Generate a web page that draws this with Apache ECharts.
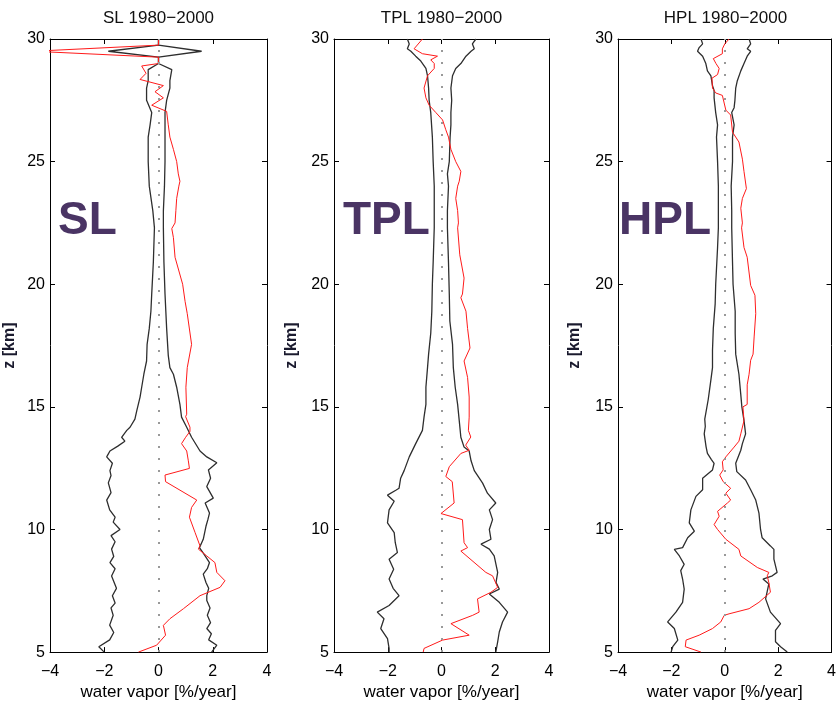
<!DOCTYPE html>
<html><head><meta charset="utf-8">
<script src="https://cdn.jsdelivr.net/npm/echarts@6/dist/echarts.min.js"></script>
<style>html,body{margin:0;padding:0;background:#fff}#c{width:839px;height:706px}</style>
</head><body><div id="c"></div>
<script>
// ---- data: [water vapor trend %/yr, altitude km] ----
const panelNames = ['SL', 'TPL', 'HPL'];
const panelTitles = ['SL 1980\u22122000', 'TPL 1980\u22122000', 'HPL 1980\u22122000'];
const xTicks = [-4, -2, 0, 2, 4];
const zTicks = [5, 10, 15, 20, 25, 30];

const slLower = [[-2.0,5.0],[-2.2,5.22],[-1.8,5.5],[-1.65,5.8],[-1.8,6.1],[-1.67,6.5],[-1.75,6.8],[-1.6,7.0],[-1.7,7.3],[-1.55,7.6],[-1.73,8.1],[-1.6,8.4],[-1.79,8.65],[-1.65,8.9],[-1.73,9.2],[-1.6,9.5],[-1.75,9.75],[-1.42,10.0],[-1.67,10.3],[-1.6,10.5],[-1.8,10.8],[-1.91,11.2],[-1.75,11.5],[-1.85,11.9],[-1.75,12.2],[-1.79,12.4],[-1.7,12.7],[-1.91,12.96],[-1.79,13.2],[-1.5,13.4],[-1.24,13.6],[-1.36,13.76],[-1.17,14.04],[-1.05,14.17],[-0.87,14.5],[-0.8,14.85],[-0.68,15.4],[-0.62,15.8],[-0.54,16.33],[-0.44,16.87],[-0.42,17.55],[-0.34,18.2],[-0.28,18.9],[-0.25,19.6],[-0.22,20.25],[-0.19,20.9],[-0.17,21.6],[-0.15,22.3],[-0.21,23],[-0.34,24],[-0.38,25],[-0.38,26],[-0.31,26.5],[-0.25,27],[-0.44,27.5],[-0.44,28],[-0.38,28.3],[-0.38,28.75],[0,29.0],[0,29.26],[-1.85,29.5],[0,29.75],[0,30]];
const slUpper = [[1.96,5.0],[2.15,5.28],[1.85,5.5],[1.95,5.75],[1.78,5.96],[1.92,6.2],[1.8,6.5],[1.9,6.8],[1.78,7.1],[1.78,7.3],[1.85,7.6],[1.75,7.84],[1.65,8.18],[1.8,8.4],[1.88,8.65],[1.7,8.95],[1.51,9.26],[1.65,9.6],[1.75,10.13],[1.82,10.4],[1.88,10.67],[1.72,11.08],[2.02,11.28],[1.78,11.75],[1.92,12.09],[1.84,12.43],[2.15,12.72],[1.78,12.96],[1.53,13.2],[1.22,13.76],[1.04,14.17],[0.85,14.58],[0.79,15.1],[0.67,15.8],[0.55,16.33],[0.42,16.6],[0.36,17.1],[0.3,18.2],[0.27,18.9],[0.24,19.6],[0.2,20.9],[0.18,22.27],[0.18,23],[0.22,24],[0.24,25],[0.24,26],[0.24,26.5],[0.24,27],[0.3,27.5],[0.42,28],[0.42,28.3],[0.49,28.75],[0,29.0],[0,29.26],[1.59,29.5],[0,29.75],[0,30]];
const slRed = [[-0.74,5.0],[-0.07,5.28],[0.26,5.69],[0.18,6.09],[0.42,6.36],[0.92,6.77],[1.53,7.3],[2.27,7.64],[2.45,7.91],[2.15,8.25],[2.08,8.65],[1.78,8.92],[1.47,9.2],[1.53,9.33],[1.35,9.87],[1.14,10.5],[1.22,10.9],[1.41,11.2],[0.26,11.95],[0.24,12.22],[1.14,12.49],[1.1,12.8],[1.04,13.2],[0.85,13.5],[1.0,13.76],[1.16,14.0],[1.16,14.17],[1.0,14.6],[1.04,14.7],[1.01,15.8],[1.06,16.6],[1.22,17.55],[1.06,18.8],[0.98,19.3],[0.89,20.0],[0.61,21.1],[0.55,21.9],[0.49,22.27],[0.61,22.5],[0.64,23],[0.67,23.5],[0.75,24],[0.79,24.2],[0.73,24.5],[0.67,25],[0.55,25.5],[0.42,26],[0.36,26.5],[0.3,27.05],[-0.25,27.3],[0.18,27.6],[-0.13,27.85],[0.18,28.1],[-0.68,28.35],[-0.46,28.6],[-0.62,28.9],[0,29.0],[0,29.26],[-4.6,29.5],[0,29.75],[0,30]];

const tplLower = [[-1.95,5.0],[-1.95,5.15],[-2.01,5.55],[-2.26,5.96],[-2.14,6.36],[-2.39,6.63],[-1.95,6.9],[-1.58,7.3],[-1.8,7.6],[-1.95,7.98],[-1.78,8.38],[-1.95,8.79],[-1.64,9.06],[-1.72,9.46],[-1.76,9.87],[-2.01,10.27],[-1.95,10.8],[-1.76,11.15],[-2.01,11.4],[-1.7,11.6],[-1.58,11.68],[-1.52,12.09],[-1.39,12.4],[-1.2,12.96],[-0.96,13.5],[-0.71,14.04],[-0.65,14.58],[-0.58,15.1],[-0.58,15.8],[-0.52,16.6],[-0.48,17.15],[-0.4,18.0],[-0.36,18.9],[-0.34,20.0],[-0.31,20.9],[-0.27,22.3],[-0.27,23],[-0.27,24],[-0.31,25],[-0.34,26],[-0.4,27],[-0.46,27.5],[-0.48,28],[-0.52,28.5],[-0.58,28.8],[-0.77,29.1],[-0.96,29.3],[-1.14,29.5],[-1.27,29.6],[-1.2,29.8],[-1.27,30]];
const tplUpper = [[2.02,5.0],[2.09,5.42],[2.15,5.82],[2.27,6.23],[2.46,6.63],[2.15,7.03],[1.78,7.37],[2.15,7.57],[2.03,7.84],[2.09,8.25],[1.96,8.92],[1.78,9.2],[1.47,9.4],[1.84,9.6],[1.78,10.0],[1.9,10.4],[1.78,10.8],[2.02,11.08],[1.71,11.48],[1.53,11.89],[1.22,12.4],[1.1,12.8],[1.03,13.2],[0.84,13.36],[0.72,13.76],[0.66,14.44],[0.6,15.1],[0.51,15.8],[0.44,16.6],[0.41,17.55],[0.31,18.5],[0.29,19.6],[0.26,20.9],[0.22,22.3],[0.22,23],[0.26,24],[0.22,24.5],[0.29,25],[0.32,26],[0.35,26.5],[0.35,27],[0.38,27.5],[0.35,28],[0.41,28.5],[0.53,28.8],[0.72,29],[0.91,29.3],[1.1,29.5],[1.22,29.6],[1.15,29.8],[1.28,30]];
const tplRed = [[-0.68,5.0],[-0.65,5.15],[0.04,5.49],[1.03,5.69],[0.35,6.16],[1.16,6.5],[1.4,6.63],[1.34,7.17],[1.84,7.44],[2.09,7.64],[1.9,8.11],[1.65,8.25],[0.72,9.12],[0.97,9.26],[0.84,9.46],[0.78,10.4],[-0.02,10.65],[0.47,11.08],[0.4,11.95],[0.16,12.16],[0.29,12.56],[0.72,13.1],[1.03,13.23],[0.9,13.44],[1.09,13.77],[1.0,14.04],[1.03,14.58],[1.03,15.4],[0.97,16.2],[0.84,16.87],[1.06,17.4],[0.97,18.2],[0.91,18.9],[0.72,19.45],[0.78,19.6],[0.84,20.25],[0.68,21.2],[0.6,22.3],[0.63,22.5],[0.6,23],[0.53,23.5],[0.6,24],[0.66,24.2],[0.72,24.6],[0.53,25],[0.35,25.5],[0.26,26],[0.16,26.3],[0.04,26.7],[-0.21,27],[-0.46,27.3],[-0.58,27.6],[-0.65,28.0],[-0.52,28.5],[-0.27,28.8],[-0.27,29.0],[-0.4,29.15],[-0.15,29.3],[-0.71,29.4],[-1.02,29.6],[-0.71,30]];

const hplLower = [[-2.01,5.0],[-1.95,5.22],[-1.76,5.49],[-1.89,5.96],[-2.14,6.23],[-1.83,6.63],[-1.58,7.03],[-1.52,7.57],[-1.58,7.98],[-1.65,8.32],[-1.52,8.58],[-1.7,8.92],[-1.89,9.19],[-1.58,9.26],[-1.39,9.66],[-1.14,9.93],[-1.33,10.27],[-1.27,10.8],[-1.08,11.35],[-0.83,11.62],[-0.83,12.09],[-0.46,12.43],[-0.4,12.7],[-0.5,12.85],[-0.65,13.1],[-0.7,13.37],[-0.77,13.9],[-0.73,14.2],[-0.75,14.5],[-0.62,15.3],[-0.52,16.1],[-0.46,16.6],[-0.46,17.3],[-0.43,18.2],[-0.36,19.2],[-0.34,20.0],[-0.27,21.5],[-0.24,22.3],[-0.24,23],[-0.24,24],[-0.27,25],[-0.31,26],[-0.27,26.5],[-0.34,27],[-0.4,27.6],[-0.4,27.9],[-0.46,28.1],[-0.52,28.5],[-0.65,28.7],[-0.71,29.0],[-0.83,29.3],[-1.02,29.5],[-0.96,29.65],[-0.83,29.8],[-0.89,30]];
const hplUpper = [[2.34,5.0],[2.09,5.22],[1.9,5.42],[1.9,5.89],[2.09,6.16],[1.71,6.63],[1.53,7.17],[1.65,7.78],[1.43,7.98],[1.78,8.11],[1.96,8.25],[1.84,8.79],[1.84,9.19],[1.71,9.33],[1.4,9.66],[1.34,10.0],[1.28,10.67],[1.16,11.2],[0.97,11.62],[0.78,12.02],[0.45,12.36],[0.41,12.7],[0.6,13.23],[0.66,13.5],[0.78,13.9],[0.72,14.44],[0.64,15.0],[0.6,15.5],[0.53,16.33],[0.41,17.15],[0.39,18.0],[0.39,18.9],[0.31,20.0],[0.29,20.9],[0.26,22.3],[0.26,23],[0.24,24],[0.29,25],[0.29,26],[0.35,26.5],[0.26,27],[0.35,27.2],[0.38,27.5],[0.41,28],[0.47,28.3],[0.6,28.7],[0.72,29.0],[0.84,29.3],[0.97,29.5],[0.84,29.6],[0.97,29.8],[0.91,30]];
const hplRed = [[-0.89,5.0],[-1.48,5.22],[-1.45,5.49],[-0.96,5.69],[-0.46,5.96],[-0.15,6.23],[-0.02,6.5],[0.16,6.56],[0.91,6.77],[1.28,7.03],[1.71,7.44],[1.65,7.84],[1.59,8.11],[1.65,8.25],[1.22,8.45],[0.6,8.92],[0.53,9.19],[0.04,9.6],[-0.27,10.0],[-0.4,10.2],[-0.21,10.54],[-0.27,10.74],[0.1,11.08],[0.22,11.2],[0.04,11.48],[0.22,11.68],[-0.06,11.95],[-0.19,12.22],[-0.06,12.43],[-0.09,12.76],[0.04,12.96],[0.35,13.36],[0.53,13.6],[0.6,13.9],[0.72,14.44],[0.68,15.0],[0.84,15.1],[0.84,15.9],[0.91,16.33],[0.97,16.9],[1.06,17.15],[1.1,17.85],[1.16,18.8],[1.13,19.55],[0.97,19.95],[0.84,21.1],[0.72,21.5],[0.63,22.3],[0.66,22.5],[0.6,23.1],[0.66,23.5],[0.81,23.9],[0.72,24.6],[0.66,25.1],[0.53,25.8],[0.29,26.2],[0.22,26.9],[0.04,27.1],[-0.09,27.7],[-0.34,27.8],[-0.46,28.0],[-0.48,28.4],[-0.27,28.55],[-0.21,28.8],[-0.33,29.0],[-0.43,29.2],[-0.09,29.4],[-0.09,29.6],[0.0,29.8],[0.16,30]];

const panelData = [[slLower, slUpper, slRed], [tplLower, tplUpper, tplRed], [hplLower, hplUpper, hplRed]];

// ---- layout ----
const FONT = 'Liberation Sans, Arial, sans-serif';
const grids = [
  {left: 50, top: 39, width: 217, height: 618},
  {left: 334, top: 39, width: 215, height: 618},
  {left: 618, top: 39, width: 215, height: 618}
];
const nameGaps = [32, 34, 35];
const bigX = [58, 343, 619];
const minusFmt = v => (v < 0 ? '\u2212' + Math.abs(v) : String(v));

const xAxes = [], yAxes = [], series = [], graphics = [];
grids.forEach((g, i) => {
  const xmin = xTicks[0], xmax = xTicks[xTicks.length - 1];
  const zmin = zTicks[0], zmax = zTicks[zTicks.length - 1];
  const tick = {show: true, inside: true, length: 5, lineStyle: {color: '#000', width: 1}};
  const line = {show: true, onZero: false, lineStyle: {color: '#000', width: 1}};
  xAxes.push({gridIndex: i, type: 'value', min: xmin, max: xmax, interval: 2, position: 'bottom',
    axisLine: line, axisTick: tick, splitLine: {show: false},
    axisLabel: {color: '#000', fontSize: 16, fontFamily: FONT, margin: 11, formatter: minusFmt},
    name: 'water vapor [%/year]', nameLocation: 'middle', nameGap: 31,
    nameTextStyle: {color: '#000', fontSize: 17, fontFamily: FONT}});
  xAxes.push({gridIndex: i, type: 'value', min: xmin, max: xmax, interval: 2, position: 'top',
    axisLine: line, axisTick: tick, axisLabel: {show: false}, splitLine: {show: false}});
  yAxes.push({gridIndex: i, type: 'value', min: zmin, max: zmax, interval: 5, position: 'left',
    axisLine: line, axisTick: tick, splitLine: {show: false},
    axisLabel: {color: '#000', fontSize: 16, fontFamily: FONT, margin: 5},
    name: 'z [km]', nameLocation: 'middle', nameGap: nameGaps[i], nameRotate: 90,
    nameTextStyle: {color: '#1a1a2e', fontSize: 16, fontWeight: 'bold', fontFamily: FONT}});
  yAxes.push({gridIndex: i, type: 'value', min: zmin, max: zmax, interval: 5, position: 'right',
    axisLine: line, axisTick: tick, axisLabel: {show: false}, splitLine: {show: false}});

  const [lo, up, red] = panelData[i];
  const base = {type: 'line', xAxisIndex: i * 2, yAxisIndex: i * 2, showSymbol: false, symbol: 'none',
    clip: true, silent: true, animation: false};
  series.push(Object.assign({}, base, {data: lo, lineStyle: {color: '#2e2e2e', width: 1.3}, z: 3,
    markLine: {silent: true, symbol: 'none', label: {show: false}, animation: false,
      lineStyle: {color: '#999', type: [2, 10], width: 2}, data: [{xAxis: 0}]}}));
  series.push(Object.assign({}, base, {data: up, lineStyle: {color: '#2e2e2e', width: 1.3}, z: 3}));
  series.push(Object.assign({}, base, {data: red, lineStyle: {color: '#ff1a1a', width: 1}, z: 4}));

  graphics.push({type: 'text', x: g.left + g.width / 2, y: 10,
    style: {text: panelTitles[i], fill: '#111', font: '17px ' + FONT, textAlign: 'center'}});
  graphics.push({type: 'text', x: bigX[i], y: 244, z: 100,
    style: {text: panelNames[i], fill: '#4a3464', font: 'bold 46px ' + FONT, textAlign: 'left', textVerticalAlign: 'bottom'}});
});

const chart = echarts.init(document.getElementById('c'), null, {renderer: 'canvas'});
chart.setOption({
  animation: false,
  backgroundColor: '#fff',
  grid: grids.map(g => Object.assign({show: false, containLabel: false}, g)),
  xAxis: xAxes, yAxis: yAxes, series: series, graphic: graphics
});
</script></body></html>
